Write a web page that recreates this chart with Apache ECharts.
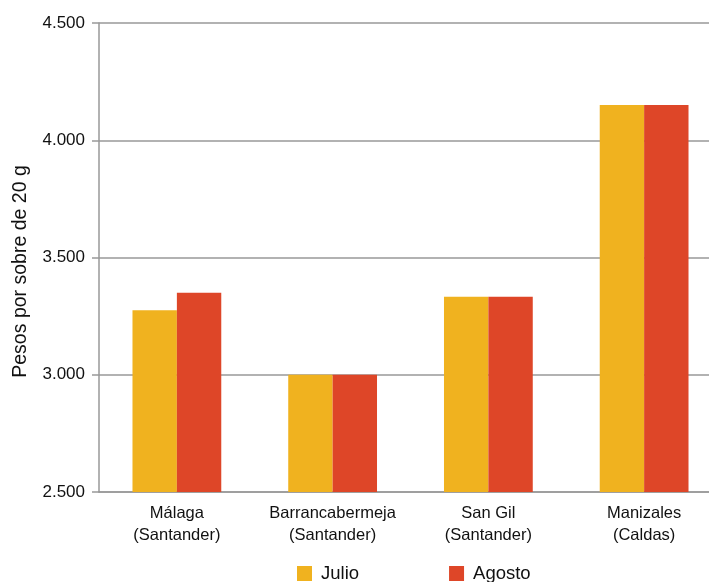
<!DOCTYPE html>
<html><head><meta charset="utf-8">
<script src="https://cdn.jsdelivr.net/npm/echarts@6/dist/echarts.min.js"></script>
<style>html,body{margin:0;padding:0;background:#fff}#c{width:709px;height:582px}</style>
</head><body><div id="c"></div>
<script>
const categories = ["Málaga\n(Santander)", "Barrancabermeja\n(Santander)", "San Gil\n(Santander)", "Manizales\n(Caldas)"];
const julio = [3275, 3000, 3333, 4150];
const agosto = [3350, 3000, 3333, 4150];
const yTicks = [2500, 3000, 3500, 4000, 4500];
const seriesNames = ["Julio", "Agosto"];

const font = "Liberation Sans";
const chart = echarts.init(document.getElementById('c'));
chart.setOption({
  animation: false,
  textStyle: {fontFamily: font},
  grid: {left: 99, width: 623, top: 23, height: 469, outerBoundsMode: 'none', containLabel: false},
  legend: {
    top: 559, left: 292, itemGap: 90, itemWidth: 15, itemHeight: 15, icon: 'rect',
    textStyle: {fontFamily: font, fontSize: 18.5, color: '#111', padding: [2, 0, 0, 4]},
    data: seriesNames
  },
  xAxis: {
    type: 'category', data: categories,
    axisLine: {lineStyle: {color: '#999', width: 1.5}},
    axisTick: {show: false},
    axisLabel: {interval: 0, fontFamily: font, fontSize: 16.5, color: '#111', lineHeight: 22, margin: 10}
  },
  yAxis: {
    type: 'value', min: yTicks[0], max: yTicks[yTicks.length-1], interval: 500,
    name: 'Pesos por sobre de 20 g', nameLocation: 'middle', nameGap: 68,
    nameTextStyle: {fontFamily: font, fontSize: 19.5, color: '#111', padding: [0, 28, 0, 0]},
    axisLine: {show: true, lineStyle: {color: '#999', width: 1.5}},
    axisTick: {show: true, length: 7, lineStyle: {color: '#999', width: 1.5}},
    splitLine: {lineStyle: {color: '#999', width: 1.5}},
    axisLabel: {fontFamily: font, fontSize: 17, color: '#111', margin: 14,
      formatter: v => { const s = String(v); return s.slice(0, s.length-3) + '.' + s.slice(-3); }}
  },
  series: [
    {name: seriesNames[0], type: 'bar', data: julio, itemStyle: {color: '#F0B21F'}, barGap: '0%', barCategoryGap: '43%'},
    {name: seriesNames[1], type: 'bar', data: agosto, itemStyle: {color: '#DE4628'}, barGap: '0%', barCategoryGap: '43%'}
  ]
});
</script></body></html>
